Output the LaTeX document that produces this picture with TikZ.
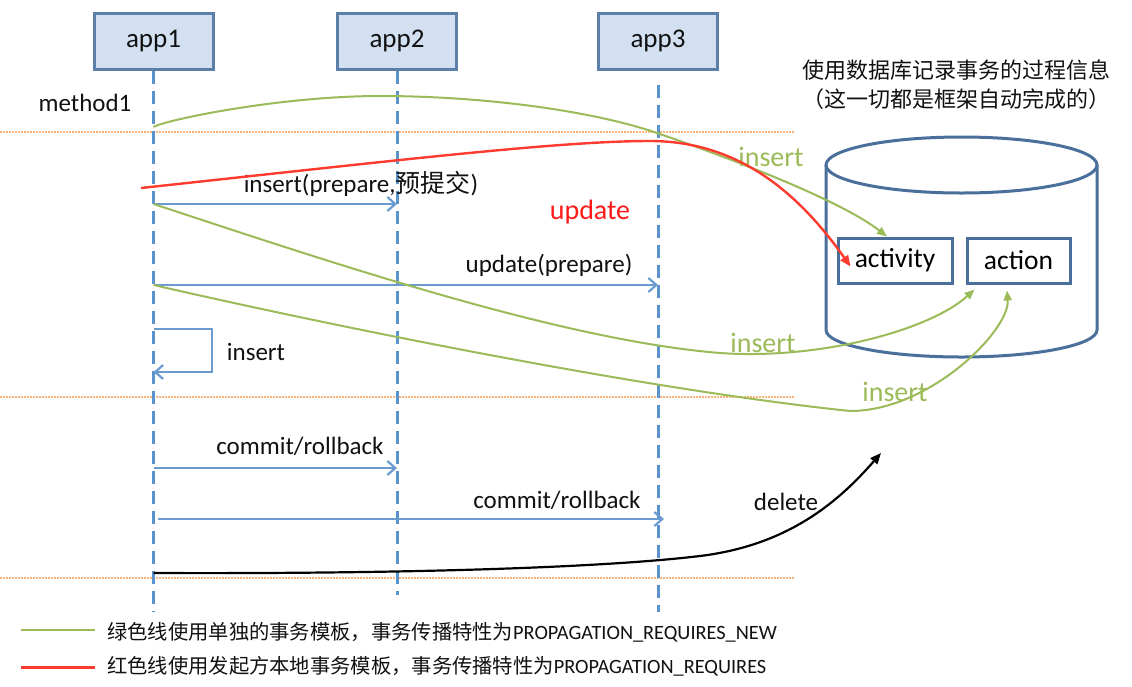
\documentclass[tikz,border=0pt]{standalone}
\usepackage{fontspec}
\setmainfont{Carlito}
\newfontfamily\cjk{Noto Sans CJK SC}
\usetikzlibrary{arrows.meta}
\definecolor{boxfill}{HTML}{D3E0F1}
\definecolor{boxdraw}{HTML}{5B7FA6}
\definecolor{life}{HTML}{5B93CC}
\definecolor{msg}{HTML}{6C9BD2}
\definecolor{grn}{HTML}{9BBB59}
\definecolor{rd}{HTML}{FF3B30}
\definecolor{rdtext}{HTML}{FF1A1A}
\definecolor{org}{HTML}{F8B27A}
\definecolor{cyl}{HTML}{4A6F9A}
\definecolor{txt}{HTML}{111111}
\tikzset{
  appbox/.style={draw=boxdraw, fill=boxfill, line width=3pt, minimum width=119pt, minimum height=56pt, inner sep=0pt, font=\fontsize{27}{30}\selectfont, text=txt},
  tbl/.style={draw=cyl, line width=3pt, minimum height=45pt, inner sep=0pt, font=\fontsize{27.5}{30}\selectfont, text=black},
  lifeline/.style={draw=life, line width=3pt, dash pattern=on 13pt off 7pt},
  msgarrow/.style={draw=msg, line width=2.2pt, -{Straight Barb[length=8pt,width=14pt]}},
  sepline/.style={draw=org, line width=1.6pt, dash pattern=on 1.6pt off 1.4pt},
  lbl/.style={inner sep=0pt, font=\fontsize{25}{30}\selectfont, text=txt},
  glbl/.style={inner sep=0pt, font=\fontsize{28}{32}\selectfont, text=grn},
  rlbl/.style={inner sep=0pt, font=\fontsize{28}{32}\selectfont, text=rdtext},
  gcurve/.style={draw=grn, line width=2pt, -{Triangle[length=10pt,width=8pt]}},
  rcurve/.style={draw=rd, line width=2.4pt, -{Triangle[length=11pt,width=9pt]}},
  kcurve/.style={draw=black, line width=2.2pt, -{Triangle[length=11pt,width=9pt]}},
  legend/.style={inner sep=0pt, anchor=west, font=\fontsize{20.3}{24}\selectfont, text=txt},
}
\begin{document}
\begin{tikzpicture}[x=1pt,y=-1pt]
\useasboundingbox[fill=white] (0,0) rectangle (1132,686);

% separators
\draw[sepline] (0,132) -- (795,132);
\draw[sepline] (0,397) -- (795,397);
\draw[sepline] (0,578) -- (795,578);

% app boxes
\node[appbox] (app1) at (153.5,41) {app1};
\node[appbox] (app2) at (397,41) {app2};
\node[appbox] (app3) at (658,41) {app3};

% lifelines
\coordinate (e1) at (153.5,612);
\coordinate (e2) at (397,595);
\coordinate (e3) at (658,612);
\draw[lifeline] (app1.south) -- (e1);
\draw[lifeline] (app2.south) -- (e2);
\draw[lifeline] ([yshift=-14pt]app3.south) -- (e3);

\node[lbl] (m1) at (85,103) {method1};

% database
\draw[cyl, line width=3pt] (826,165) -- (826,330) arc[start angle=180, end angle=360, x radius=135.5pt, y radius=27pt] -- (1097,165);
\draw[cyl, line width=3pt] (961.5,165) ellipse[x radius=135.5pt, y radius=28pt];
\node[tbl, minimum width=114pt] (activity) at (895,260.5) {activity};
\node[tbl, minimum width=103pt] (action) at (1018.5,260.5) {action};

\node[inner sep=0pt, align=center, font=\cjk\fontsize{22}{29}\selectfont, text=txt] (note) at (956,85) {使用数据库记录事务的过程信息\\（这一切都是框架自动完成的）};

% message points
\coordinate (a1) at (153.5,204);
\coordinate (b1) at (397,204);
\coordinate (a2) at (153.5,285);
\coordinate (c2) at (658,285);
\coordinate (s1) at (153.5,329);
\coordinate (s2) at (212,329);
\coordinate (s3) at (212,372);
\coordinate (s4) at (153.5,372);
\coordinate (a3) at (153.5,468);
\coordinate (b3) at (397,468);
\coordinate (a4) at (158,519);
\coordinate (c4) at (664,519);

\draw[msgarrow] (a1) -- (b1);
\node[lbl] (l1) at (361,184) {insert(prepare,{\cjk 预提交})};
\draw[msgarrow] (a2) -- (c2);
\node[lbl] (l2) at (549,265) {update(prepare)};
\draw[msgarrow] (s1) -- (s2) -- (s3) -- (s4);
\node[lbl] (l3) at (256,352) {insert};
\draw[msgarrow] (a3) -- (b3);
\node[lbl] (l4) at (300,446) {commit/rollback};
\draw[msgarrow] (a4) -- (c4);
\node[lbl] (l5) at (557,500) {commit/rollback};

% green curves
\coordinate (g1) at (153.5,127);
\draw[gcurve] (g1) .. controls (165,120) and (280,96) .. (380,96) .. controls (480,96) and (590,110) .. (657,133) .. controls (730,158) and (840,200) .. ([xshift=-8pt]activity.north);
\node[glbl] (gl1) at (771,157) {insert};

\draw[gcurve] (a1) .. controls (330,262) and (560,340) .. (720,353) .. controls (820,360) and (930,330) .. ([shift={(9,5)}]action.south west);
\node[glbl] (gl2) at (763,343) {insert};

\draw[gcurve] (a2) .. controls (350,330) and (650,390) .. (850,411) .. controls (930,411) and (1010,330) .. ([shift={(-11.5,6)}]action.south);
\node[glbl] (gl3) at (895,392) {insert};

% red curve
\coordinate (r0) at (141,188);
\draw[rcurve] (r0) .. controls (400,160) and (560,141) .. (650,141) .. controls (740,141) and (800,195) .. ([shift={(14,6)}]activity.west);
\node[rlbl] (rl) at (590,212) {update};

% black curve
\coordinate (k0) at (153.5,573);
\coordinate (k1) at (881,453);
\draw[kcurve] (k0) .. controls (400,574) and (600,568) .. (700,556) .. controls (790,545) and (840,500) .. (k1);
\node[lbl] (dl) at (786,502) {delete};

% legend
\coordinate (lg1a) at (21,630);
\coordinate (lg1b) at (95,630);
\coordinate (lg2a) at (21,667);
\coordinate (lg2b) at (95,667);
\draw[grn, line width=2.5pt] (lg1a) -- (lg1b);
\draw[rd, line width=3pt] (lg2a) -- (lg2b);
\node[legend] (t1) at (107,632) {{\cjk 绿色线使用单独的事务模板，事务传播特性为}PROPAGATION\_REQUIRES\_NEW};
\node[legend] (t2) at (107,666) {{\cjk 红色线使用发起方本地事务模板，事务传播特性为}PROPAGATION\_REQUIRES};
\end{tikzpicture}
\end{document}
